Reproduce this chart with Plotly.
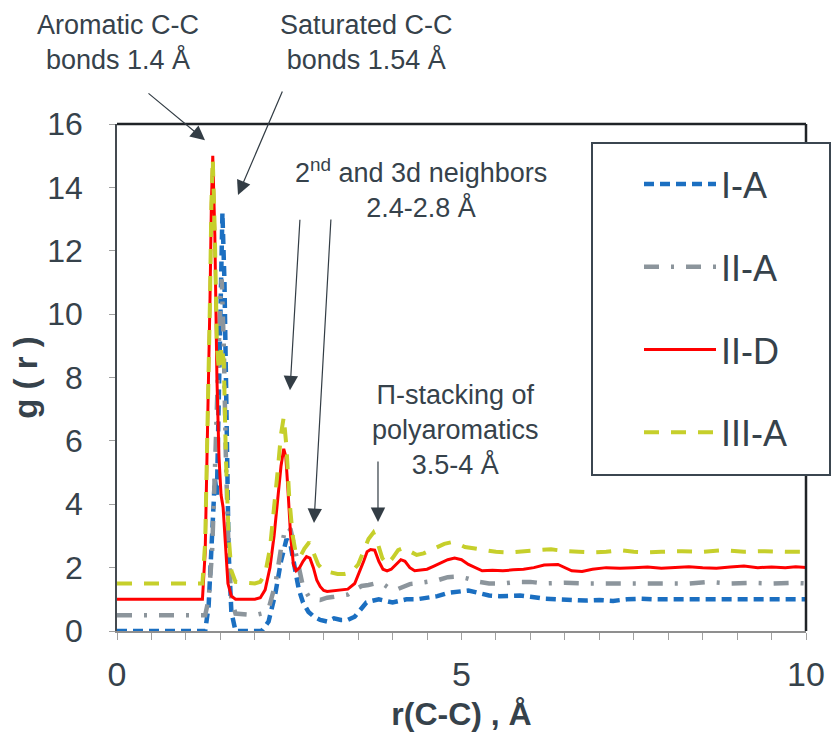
import plotly.graph_objects as go

# ---------------- data ----------------
r_IA = [0, 1.28, 1.33, 1.38, 1.42, 1.45, 1.48, 1.51, 1.53, 1.56, 1.59, 1.62, 1.66, 1.72,
        2.10, 2.20, 2.30, 2.38, 2.46, 2.52, 2.58, 2.64, 2.70, 2.78, 2.86, 2.95, 3.05, 3.15,
        3.25, 3.35, 3.45, 3.55, 3.62, 3.70, 3.80, 3.90, 4.00, 4.10, 4.20, 4.35, 4.50, 4.65,
        4.80, 4.95, 5.10, 5.25, 5.40, 5.55, 5.70, 5.85, 6.00, 6.20, 6.40, 6.60, 6.80, 7.00,
        7.20, 7.40, 7.60, 7.80, 8.00, 8.30, 8.60, 8.90, 9.20, 9.50, 9.80, 10.0]
g_IA = [0.0, 0.0, 0.8, 3.0, 4.8, 4.3, 7.5, 11.5, 13.2, 11.0, 6.0, 2.5, 0.6, 0.0,
        0.0, 0.3, 1.2, 2.2, 2.9, 2.7, 2.0, 1.3, 0.9, 0.6, 0.45, 0.35, 0.3, 0.4,
        0.35, 0.35, 0.45, 0.7, 0.9, 0.95, 1.0, 0.95, 0.9, 0.95, 1.0, 1.0, 1.05, 1.1,
        1.2, 1.25, 1.28, 1.2, 1.12, 1.1, 1.1, 1.12, 1.08, 1.02, 1.0, 0.98, 0.96, 0.98,
        0.95, 1.0, 1.02, 1.0, 1.0, 1.0, 1.02, 1.0, 1.02, 1.0, 1.0, 1.0]

r_IIA = [0, 1.28, 1.33, 1.38, 1.42, 1.46, 1.50, 1.52, 1.55, 1.58, 1.62, 1.66, 1.72,
         2.00, 2.10, 2.20, 2.30, 2.38, 2.45, 2.52, 2.58, 2.64, 2.70, 2.78, 2.86, 2.95,
         3.05, 3.15, 3.25, 3.35, 3.45, 3.55, 3.65, 3.75, 3.85, 3.95, 4.05, 4.15, 4.25,
         4.35, 4.50, 4.65, 4.80, 4.95, 5.10, 5.25, 5.40, 5.60, 5.80, 6.00, 6.20, 6.50,
         6.80, 7.10, 7.40, 7.70, 8.00, 8.30, 8.60, 8.90, 9.20, 9.50, 9.80, 10.0]
g_IIA = [0.5, 0.5, 1.0, 2.5, 5.0, 8.0, 10.5, 11.1, 9.0, 5.5, 2.5, 1.0, 0.55,
         0.5, 0.55, 0.7, 1.5, 2.6, 3.3, 3.2, 2.6, 1.9, 1.4, 1.1, 1.0, 0.98,
         1.05, 1.08, 1.1, 1.15, 1.3, 1.42, 1.45, 1.5, 1.5, 1.35, 1.3, 1.4, 1.48,
         1.5, 1.55, 1.6, 1.7, 1.72, 1.65, 1.55, 1.5, 1.5, 1.55, 1.55, 1.5, 1.52,
         1.5, 1.5, 1.52, 1.5, 1.52, 1.5, 1.55, 1.5, 1.52, 1.5, 1.52, 1.5]

r_IID = [0, 1.24, 1.28, 1.32, 1.35, 1.37, 1.39, 1.42, 1.45, 1.48, 1.51, 1.54, 1.57, 1.61,
         1.66, 1.72, 2.00, 2.08, 2.15, 2.22, 2.28, 2.33, 2.38, 2.42, 2.45, 2.48, 2.52,
         2.56, 2.60, 2.65, 2.70, 2.75, 2.80, 2.85, 2.90, 2.95, 3.00, 3.05, 3.15, 3.25,
         3.35, 3.45, 3.52, 3.58, 3.63, 3.68, 3.74, 3.80, 3.86, 3.92, 3.98, 4.05, 4.12,
         4.18, 4.25, 4.32, 4.40, 4.50, 4.60, 4.70, 4.80, 4.90, 5.00, 5.10, 5.20, 5.30,
         5.45, 5.60, 5.75, 5.90, 6.05, 6.20, 6.40, 6.60, 6.75, 6.90, 7.10, 7.30, 7.50,
         7.70, 7.90, 8.10, 8.30, 8.50, 8.70, 8.90, 9.10, 9.30, 9.50, 9.70, 9.85, 10.0]
g_IID = [1.0, 1.0, 2.5, 6.5, 10.5, 13.5, 15.0, 12.5, 8.0, 5.5, 4.3, 3.9, 2.8, 1.5,
         1.1, 1.0, 1.0, 1.05, 1.3, 2.0, 3.0, 4.2, 5.2, 5.75, 5.5, 4.5, 3.0,
         2.1, 1.9, 2.0, 2.2, 2.35, 2.3, 2.0, 1.6, 1.4, 1.28, 1.25, 1.27, 1.28,
         1.32, 1.5, 1.85, 2.2, 2.5, 2.57, 2.55, 2.2, 1.95, 1.9, 1.95, 2.1, 2.25,
         2.2, 2.0, 1.9, 1.92, 1.95, 2.05, 2.15, 2.25, 2.3, 2.25, 2.1, 2.0, 1.9,
         1.92, 1.9, 1.93, 1.95, 2.0, 2.08, 2.1, 1.9, 1.88, 1.95, 2.0, 1.98, 2.0,
         2.02, 1.98, 2.0, 2.03, 2.0, 1.98, 2.02, 2.05, 2.0, 2.02, 2.0, 2.03, 2.0]

r_IIIA = [0, 1.24, 1.28, 1.32, 1.35, 1.37, 1.39, 1.42, 1.45, 1.48, 1.52, 1.55, 1.58, 1.62,
          1.66, 1.72, 2.00, 2.08, 2.15, 2.22, 2.28, 2.33, 2.38, 2.42, 2.46, 2.50, 2.55,
          2.60, 2.66, 2.72, 2.79, 2.85, 2.92, 3.00, 3.10, 3.20, 3.30, 3.40, 3.50, 3.58,
          3.65, 3.72, 3.78, 3.85, 3.92, 4.00, 4.08, 4.16, 4.25, 4.35, 4.45, 4.55, 4.65,
          4.75, 4.85, 4.95, 5.05, 5.20, 5.35, 5.50, 5.70, 5.90, 6.10, 6.30, 6.50, 6.70,
          6.90, 7.10, 7.30, 7.50, 7.70, 7.90, 8.20, 8.50, 8.80, 9.10, 9.40, 9.70, 10.0]
g_IIIA = [1.5, 1.5, 2.8, 6.5, 10.5, 13.5, 14.9, 12.5, 9.0, 8.2, 9.0, 8.5, 5.5, 3.0,
          1.9, 1.55, 1.5, 1.55, 1.8, 2.6, 3.8, 5.0, 6.2, 6.75, 5.8, 4.2, 3.0,
          2.4, 2.35, 2.6, 2.8, 2.5, 2.1, 1.9, 1.85, 1.8, 1.8, 1.85, 2.1, 2.5,
          2.9, 3.1, 2.8, 2.3, 2.1, 2.3, 2.55, 2.62, 2.5, 2.4, 2.45, 2.55, 2.65,
          2.75, 2.8, 2.75, 2.65, 2.6, 2.55, 2.5, 2.48, 2.5, 2.55, 2.58, 2.52, 2.5,
          2.48, 2.5, 2.55, 2.5, 2.48, 2.5, 2.52, 2.5, 2.55, 2.5, 2.52, 2.5, 2.5]

series_names = ["I-A", "II-A", "II-D", "III-A"]
x_ticks = [0, 5, 10]
y_ticks = [0, 2, 4, 6, 8, 10, 12, 14, 16]

# ---------------- styling ----------------
FONT = "Liberation Sans, Arial, sans-serif"
TXT = "#36424b"
styles = [
    dict(color="#1b6fc1", width=4.5, dash="10px,6px"),
    dict(color="#8c959c", width=4.5, dash="15px,12px,3px,12px"),
    dict(color="#ff0000", width=3, dash="solid"),
    dict(color="#c6cf2b", width=4, dash="15px,12px"),
]
xs = [r_IA, r_IIA, r_IID, r_IIIA]
ys = [g_IA, g_IIA, g_IID, g_IIIA]

fig = go.Figure()
for name, x, y, st in zip(series_names, xs, ys, styles):
    fig.add_trace(go.Scatter(x=x, y=y, mode="lines", name=name, line=st,
                             legendgroup=name))

L, R, T, B = 117, 27, 124, 101
W, H = 833, 732
pw, ph = W - L - R, H - T - B

def px(xp):
    return (xp - L) / pw

def py(yp):
    return (H - B - yp) / ph

# frame (top and right) plus legend box
shapes = [
    dict(type="line", xref="paper", yref="paper", x0=0, x1=1, y0=1, y1=1,
         line=dict(color="#1f2327", width=2.5)),
    dict(type="line", xref="paper", yref="paper", x0=1, x1=1, y0=0, y1=1,
         line=dict(color="#1f2327", width=2.5)),
    dict(type="rect", xref="paper", yref="paper", x0=px(592), x1=px(830),
         y0=py(475), y1=py(143), fillcolor="white",
         line=dict(color="#3b4650", width=2), layer="above"),
]

ann_font = dict(family=FONT, size=27, color=TXT)
text_common = dict(xref="paper", yref="paper", showarrow=False, font=ann_font,
                   xanchor="center", yanchor="middle", align="center")
annotations = [
    dict(text="Aromatic C-C<br>bonds 1.4 Å", x=px(118), y=py(42), **text_common),
    dict(text="Saturated C-C<br>bonds 1.54 Å", x=px(366), y=py(42), **text_common),
    dict(text="2<sup>nd</sup> and 3d neighbors<br>2.4-2.8 Å", x=px(421), y=py(188),
         **text_common),
    dict(text="Π-stacking of<br>polyaromatics<br>3.5-4 Å", x=px(455), y=py(430),
         **text_common),
]
arrow_style = dict(text="", showarrow=True, arrowhead=2, arrowsize=2.4, arrowwidth=1.2,
                   arrowcolor="#333d45", xref="x", yref="y", axref="pixel", ayref="pixel")
arrows = [
    (1.277, 15.49, -58, -48),
    (1.756, 13.76, 45, -105),
    (2.511, 7.60, 10, -172),
    (2.859, 3.41, 17, -305),
    (3.788, 3.44, 0, -62),
]
for (hx, hy, ax, ay) in arrows:
    annotations.append(dict(x=hx, y=hy, ax=ax, ay=ay, **arrow_style))

fig.update_layout(
    width=W, height=H,
    margin=dict(l=L, r=R, t=T, b=B, autoexpand=False),
    paper_bgcolor="white", plot_bgcolor="white",
    font=dict(family=FONT, color=TXT),
    shapes=shapes,
    annotations=annotations,
    showlegend=True,
    legend=dict(x=px(639), y=py(154), xanchor="left", yanchor="top",
                bgcolor="rgba(0,0,0,0)", borderwidth=0,
                font=dict(family=FONT, size=36, color=TXT),
                itemwidth=72, tracegroupgap=33, traceorder="grouped"),
    xaxis=dict(range=[0, 10], tickvals=x_ticks, showgrid=False, zeroline=False,
               showline=True, linecolor="#8f8f8f", linewidth=1.5,
               ticks="outside", ticklen=7, tickcolor="#a0a0a0", tickwidth=1.2,
               minor=dict(dtick=0.5, ticks="outside", ticklen=7, tickcolor="#a0a0a0",
                          tickwidth=1.2, showgrid=False),
               tickfont=dict(family=FONT, size=34, color=TXT), ticklabelstandoff=5,
               title=dict(text="<b>r(C-C) , Å</b>", standoff=24,
                          font=dict(family=FONT, size=32, color=TXT))),
    yaxis=dict(range=[0, 16], tickvals=y_ticks, showgrid=False, zeroline=False,
               showline=True, linecolor="#444a50", linewidth=1.5,
               ticks="outside", ticklen=6, tickcolor="#a0a0a0", tickwidth=1.2,
               tickfont=dict(family=FONT, size=32, color=TXT), ticklabelstandoff=20,
               title=dict(text="<b>g ( r )</b>", standoff=0,
                          font=dict(family=FONT, size=33, color=TXT))),
)

fig.write_html("out.html", config={"displayModeBar": False},
               post_script="document.body.style.margin='0';")
